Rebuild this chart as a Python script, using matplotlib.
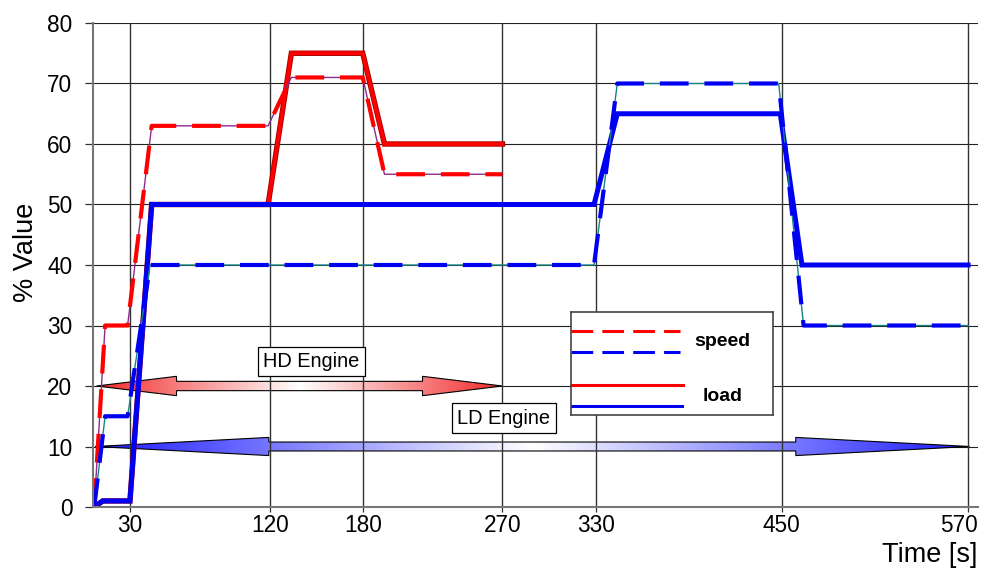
import numpy as np
import matplotlib
matplotlib.use("Agg")
import matplotlib.pyplot as plt
import matplotlib.patheffects as pe
import matplotlib.transforms as mtransforms
from matplotlib.patches import Polygon
from matplotlib.colors import LinearSegmentedColormap

plt.rcParams["font.family"] = ["Liberation Sans", "DejaVu Sans"]

# ---- test cycle data -------------------------------------------------------
# HD engine (ends at 270 s)
hd_speed_time = [7, 14, 28.5, 44, 119, 134, 180, 194, 270]
hd_speed = [0, 30, 30, 63, 63, 71, 71, 55, 55]
hd_load_time = [7, 12.5, 30, 44, 119, 134, 180, 194, 270]
hd_load = [0, 1, 1, 50, 50, 75, 75, 60, 60]

# LD engine (ends at 570 s)
ld_speed_time = [7, 14, 28.5, 43, 329, 344, 448, 464, 570]
ld_speed = [0, 15, 15, 40, 40, 70, 70, 30, 30]
ld_load_time = [7, 12.5, 30, 44, 329, 344, 449, 463, 570]
ld_load = [0, 1, 1, 50, 50, 65, 65, 40, 40]

x_ticks = [30, 120, 180, 270, 330, 450, 570]
y_ticks = [0, 10, 20, 30, 40, 50, 60, 70, 80]

# duration arrows: (start, end, level) and their captions (text, x, y)
hd_span = (8.5, 270, 20)
ld_span = (7.5, 571, 10)
hd_label = ("HD Engine", 146.8, 24.0)
ld_label = ("LD Engine", 271.0, 14.7)

# ---- figure ----------------------------------------------------------------
W, H = 984, 574
fig = plt.figure(figsize=(W / 100, H / 100), dpi=100)
ax = fig.add_axes([93 / W, 1 - 507 / H, (977.7 - 93) / W, (507 - 23) / H])

ax.set_xlim(6.2, 576.2)
ax.set_ylim(0, 80)
ax.set_xticks(x_ticks)
ax.set_yticks(y_ticks)
ax.tick_params(axis="y", length=5.8, width=0.9, color="#333333",
               labelsize=16.3, pad=9, direction="out")
ax.tick_params(axis="x", length=3.6, width=0.9, color="#333333",
               labelsize=16.3, pad=1.5, direction="out")

# keep the last time label inside the figure edge
last = ax.get_xticklabels()[-1]
last.set_transform(last.get_transform()
                   + mtransforms.ScaledTranslation(-0.09, 0, fig.dpi_scale_trans))

for side in ("top", "right"):
    ax.spines[side].set_visible(False)
for side in ("left", "bottom"):
    ax.spines[side].set_color("#777777")
    ax.spines[side].set_linewidth(1.5)
    ax.spines[side].set_zorder(3)

ax.set_axisbelow(True)
ax.grid(axis="y", color="#222222", linewidth=0.8)
for t in x_ticks:
    ax.axvline(t, color="#333333", linewidth=1.0, zorder=1.2)


def double_arrow(x0, x1, y, head_len, head_half, body_half, tip_color):
    pts = [
        (x0, y), (x0 + head_len, y + head_half), (x0 + head_len, y + body_half),
        (x1 - head_len, y + body_half), (x1 - head_len, y + head_half), (x1, y),
        (x1 - head_len, y - head_half), (x1 - head_len, y - body_half),
        (x0 + head_len, y - body_half), (x0 + head_len, y - head_half),
    ]
    poly = Polygon(pts, closed=True, facecolor="none", edgecolor="black",
                   linewidth=0.8, zorder=1.1)
    ax.add_patch(poly)
    cmap = LinearSegmentedColormap.from_list("fade", ["white", tip_color])
    grad = np.abs(np.linspace(-1, 1, 400))[None, :]
    img = ax.imshow(grad, cmap=cmap, vmin=0, vmax=1, aspect="auto",
                    extent=(x0, x1, y - head_half, y + head_half),
                    interpolation="bilinear", zorder=1.0)
    img.set_clip_path(poly)


double_arrow(*hd_span, head_len=51.5, head_half=1.6, body_half=0.77,
             tip_color="#f22a2a")
double_arrow(*ld_span, head_len=112, head_half=1.5, body_half=0.74,
             tip_color="#1c1cff")

# ---- series ----------------------------------------------------------------
ax.plot(hd_load_time, hd_load, color="#ff0000", linewidth=2.6, zorder=2,
        solid_joinstyle="miter",
        path_effects=[pe.Stroke(linewidth=3.9, foreground="#a80000"), pe.Normal()])
ax.plot(ld_load_time, ld_load, color="#0000f2", linewidth=3.6, zorder=2.1,
        solid_joinstyle="miter")

ax.plot(hd_speed_time, hd_speed, color="#8e2a8e", linewidth=1.0, zorder=2.4)
ax.plot(hd_speed_time, hd_speed, color="#ff0000", linewidth=3.0,
        dashes=(6.9, 3.8), zorder=2.5)
ax.plot(ld_speed_time, ld_speed, color="#178585", linewidth=1.0, zorder=2.6)
ax.plot(ld_speed_time, ld_speed, color="#0000f2", linewidth=3.0,
        dashes=(6.9, 3.8), zorder=2.7)

for text, tx, ty in (hd_label, ld_label):
    ax.text(tx, ty, text, ha="center", va="center", fontsize=14.4, zorder=5,
            bbox=dict(boxstyle="square,pad=0.26", facecolor="white",
                      edgecolor="black", linewidth=0.9))

ax.set_ylabel("% Value", fontsize=19.5)
ax.yaxis.set_label_coords(-0.061, 0.527)
ax.set_xlabel("Time [s]", fontsize=19.5, loc="right")
ax.xaxis.set_label_coords(1.0, -0.072)

# ---- legend ----------------------------------------------------------------
lg = fig.add_axes([571 / W, 1 - 415 / H, 202 / W, 103 / H])
lg.set_xlim(0, 1)
lg.set_ylim(0, 1)
lg.set_xticks([])
lg.set_yticks([])
for s in lg.spines.values():
    s.set_color("#444444")
    s.set_linewidth(1.2)
lg.plot([0, 0.54], [0.816, 0.816], color="#ff0000", linewidth=2.2,
        dashes=(7.1, 3.0))
lg.plot([0, 0.54], [0.612, 0.612], color="#0000f2", linewidth=2.2,
        dashes=(7.1, 3.0))
lg.plot([0, 0.555], [0.291, 0.291], color="#ff0000", linewidth=2.2)
lg.plot([0, 0.55], [0.087, 0.087], color="#0000f2", linewidth=2.2)
lg.text(0.75, 0.709, "speed", ha="center", va="center", fontsize=14,
        fontweight="bold")
lg.text(0.75, 0.175, "load", ha="center", va="center", fontsize=14,
        fontweight="bold")

fig.savefig("out.png", dpi=100)
